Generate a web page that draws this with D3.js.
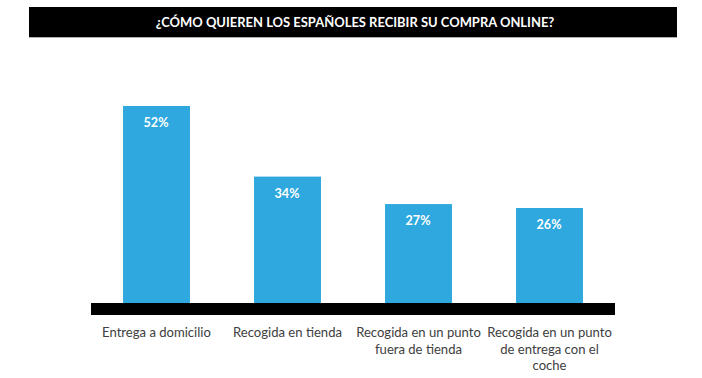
<!DOCTYPE html>
<html>
<head>
<meta charset="utf-8">
<script src="https://cdn.jsdelivr.net/npm/d3@7"></script>
<style>
  html, body { margin: 0; padding: 0; background: #ffffff; }
  svg { display: block; }
</style>
</head>
<body>
<svg id="chart" width="702" height="378"></svg>
<script>
const title = "¿CÓMO QUIEREN LOS ESPAÑOLES RECIBIR SU COMPRA ONLINE?";
const categories = [
  "Entrega a domicilio",
  "Recogida en tienda",
  "Recogida en un punto\nfuera de tienda",
  "Recogida en un punto\nde entrega con el\ncoche"
];
const values = [52, 34, 27, 26];
const valueLabels = ["52%", "34%", "27%", "26%"];

const W = 702, H = 378;
const svg = d3.select("#chart");
const FONT = "Lato, 'Open Sans', sans-serif";

function fitSize(text, weight, target) {
  const t = svg.append("text").attr("font-family", FONT)
    .attr("font-weight", weight).attr("font-size", 20).text(text);
  const len = t.node().getComputedTextLength();
  t.remove();
  return 20 * target / len;
}

// Title bar
const titleX0 = 29, titleX1 = 677, titleY0 = 7, titleY1 = 37;
svg.append("rect")
  .attr("x", titleX0).attr("y", titleY0)
  .attr("width", titleX1 - titleX0).attr("height", titleY1 - titleY0)
  .attr("fill", "#000");
svg.append("line")
  .attr("x1", titleX0).attr("x2", titleX1)
  .attr("y1", titleY1 + 0.5).attr("y2", titleY1 + 0.5)
  .attr("stroke", "#b0b0b0").attr("stroke-width", 1.2);
svg.append("text")
  .attr("x", (titleX0 + titleX1) / 2 + 2)
  .attr("y", 26.5)
  .attr("text-anchor", "middle")
  .attr("fill", "#fff")
  .attr("font-family", FONT)
  .attr("font-weight", 700)
  .attr("font-size", fitSize(title, 700, 399))
  .text(title);

// Scales
const x = d3.scaleBand()
  .domain(categories)
  .range([91, 615])
  .paddingInner(0.489)
  .paddingOuter(0.2445);

const y = d3.scaleLinear()
  .domain([0, 60])
  .range([310, 74.6]);

// Bars
svg.append("g").selectAll("rect")
  .data(values)
  .join("rect")
  .attr("x", (d, i) => x(categories[i]))
  .attr("y", d => y(d))
  .attr("width", x.bandwidth())
  .attr("height", d => y(0) - y(d))
  .attr("fill", "#2ea8de");

// Value labels
const valSize = fitSize("52%", 700, 25);
svg.append("g").selectAll("text")
  .data(values)
  .join("text")
  .attr("x", (d, i) => x(categories[i]) + x.bandwidth() / 2 - 0.5)
  .attr("y", d => y(d) + 21)
  .attr("text-anchor", "middle")
  .attr("fill", "#fff")
  .attr("font-family", FONT)
  .attr("font-weight", 700)
  .attr("font-size", valSize)
  .text((d, i) => valueLabels[i]);

// Axis band (thick black baseline)
const [ax0, ax1] = x.range();
svg.append("rect")
  .attr("x", ax0).attr("y", y(0) - 7)
  .attr("width", ax1 - ax0).attr("height", 12)
  .attr("fill", "#000");

// Category labels
const catSize = fitSize(categories[0], 400, 109);
const catG = svg.append("g");
categories.forEach(c => {
  const t = catG.append("text")
    .attr("text-anchor", "middle")
    .attr("fill", "#404040")
    .attr("font-family", FONT)
    .attr("font-size", catSize);
  c.split("\n").forEach((line, j) => {
    t.append("tspan")
      .attr("x", x(c) + x.bandwidth() / 2)
      .attr("y", y(0) + 27 + j * 16.5)
      .text(line);
  });
});
</script>
</body>
</html>
